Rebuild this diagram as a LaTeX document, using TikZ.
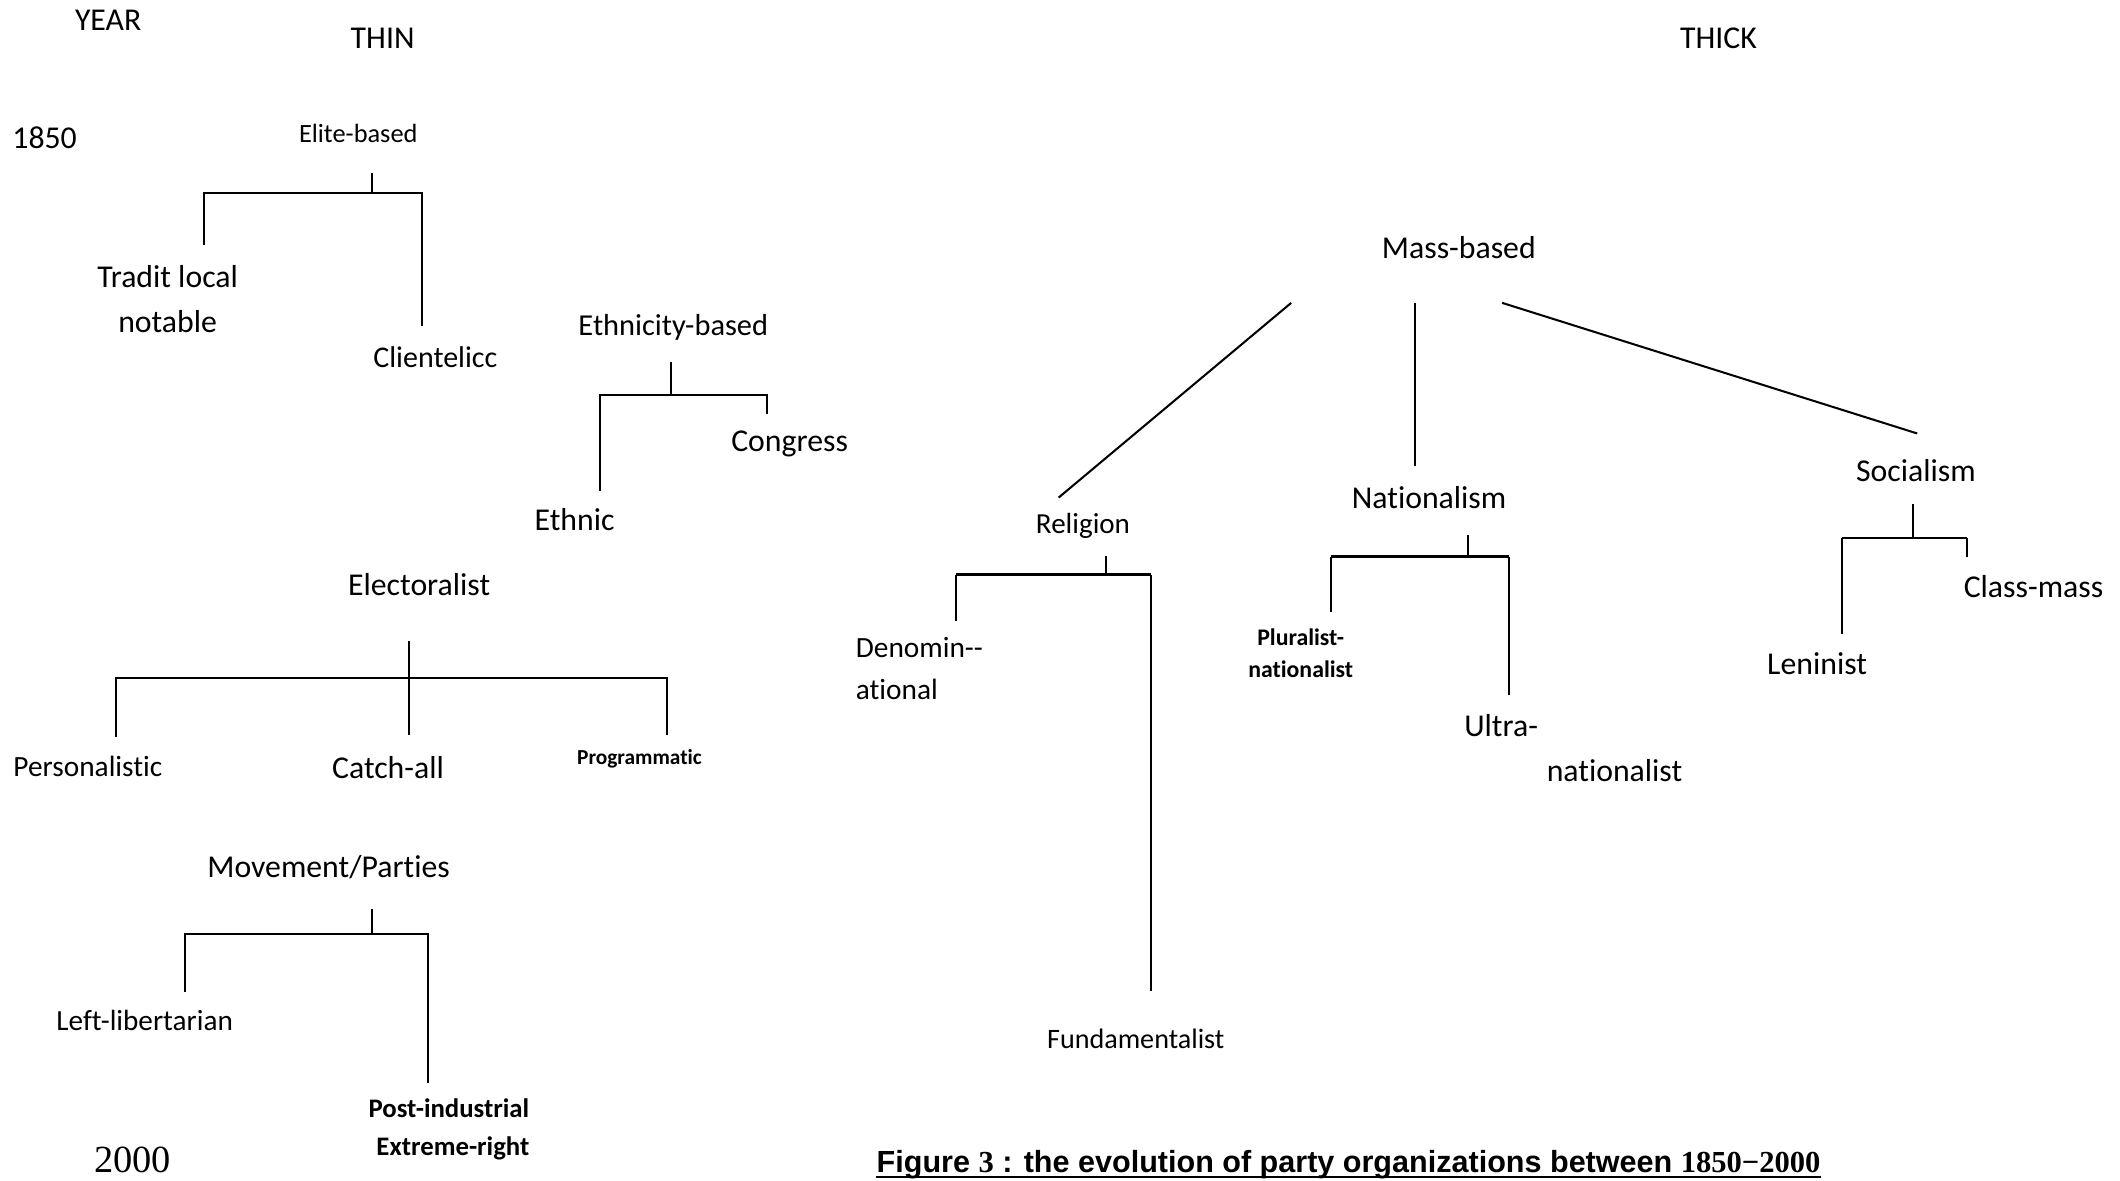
\documentclass[tikz,border=0pt]{standalone}
\usepackage{fontspec}
\setmainfont{Carlito}[Ligatures=NoCommon]
\newfontfamily\capfont{Liberation Sans}
\newfontfamily\yearfont{Liberation Serif}
\usetikzlibrary{calc}

\tikzset{
  lbl/.style={inner sep=0pt, outer sep=0pt, font=\fontsize{11.75}{16.5}\selectfont},
  sz/.style={font=\fontsize{#1}{#1}\selectfont},
  bsz/.style={font=\fontsize{#1}{#1}\selectfont\bfseries},
  link/.style={draw=black, line width=0.75pt},
  bar/.style={draw=black, line width=1pt}
}

\begin{document}
\begin{tikzpicture}[x=0.5pt, y=-0.5pt]
\useasboundingbox (0,0) rectangle (1568,873);

% ---------- headings and time axis ----------
\node[lbl] (year)  at (80,15)   {YEAR};
\node[lbl] (thin)  at (283,28)  {THIN};
\node[lbl] (thick) at (1271,28) {THICK};
\node[lbl] (y1850) at (33,102)  {1850};
\node[lbl, font=\yearfont\fontsize{14.2}{14.2}\selectfont] (y2000) at (98,858) {2000};

% ---------- thin side ----------
\node[lbl, sz=9.75] (elite) at (265,99) {Elite-based};
\node[lbl, align=center] (tradit) at (124,221) {Tradit local\\notable};
\node[lbl, sz=11.1] (client) at (322,264) {Clientelicc};

\node[lbl, sz=11.25] (ethnicity) at (498,242) {Ethnicity-based};
\node[lbl] (congress) at (584,328) {Congress};
\node[lbl] (ethnic) at (425,384) {Ethnic};

\node[lbl] (elect) at (310,432) {Electoralist};
\node[lbl, sz=10.85] (person) at (65,567) {Personalistic};
\node[lbl] (catch) at (287,568) {Catch-all};
\node[lbl, bsz=7.9] (program) at (473,561) {Programmatic};

\node[lbl] (movement) at (243,641) {Movement/Parties};
\node[lbl, sz=10.8] (leftlib) at (107,755) {Left-libertarian};
\node[lbl, align=center, font=\fontsize{9.9}{14}\selectfont\bfseries] (postind) at (332,835) {Post-industrial\\\hspace*{3pt}Extreme-right};

% ---------- thick side ----------
\node[lbl] (mass) at (1079,183) {Mass-based};
\node[lbl, sz=10.75] (religion) at (801,389) {Religion};
\node[lbl] (nation) at (1057,368) {Nationalism};
\node[lbl] (social) at (1417,348) {Socialism};

\node[lbl, anchor=west, align=left, font=\fontsize{10.85}{15.5}\selectfont] (denom) at (633,494.5) {Denomin-{}-\\ational};
\node[lbl, sz=10.4] (fundam) at (840,768) {Fundamentalist};

\node[lbl, align=center, font=\fontsize{8.8}{12}\selectfont\bfseries] (plural) at (962,483) {Pluralist-\\nationalist};
\node[lbl, anchor=west, align=left] (ultra) at (1083,553.5) {Ultra-\\\hspace*{30.5pt}nationalist};

\node[lbl] (lenin) at (1344,491) {Leninist};
\node[lbl] (classm) at (1504,434) {Class-mass};

% ---------- caption ----------
\node[inner sep=0pt, anchor=base west, font=\capfont\bfseries\fontsize{11.3}{11.3}\selectfont] (caption) at (648,867)
  {Figure {\yearfont 3} : the evolution of party organizations between {\yearfont 1850−2000}};
\draw[line width=0.9pt] ($(caption.base west)+(0,3.5)$) -- ($(caption.base east)+(0,3.5)$);

% ---------- branch points ----------
\coordinate (eliteA) at (275,128);  \coordinate (eliteJ) at (275,143);
\coordinate (eliteL) at (151,181);  \coordinate (eliteR) at (312,241);

\coordinate (ethA) at (496,268);    \coordinate (ethJ) at (496,292);
\coordinate (ethL) at (444,363);    \coordinate (ethR) at (567,306);

\coordinate (elA) at (302.5,474);   \coordinate (elJ) at (302.5,501.5);
\coordinate (elL) at (86,545);      \coordinate (elM) at (302.5,543.5);
\coordinate (elR) at (493,543.5);

\coordinate (mvA) at (275,672);     \coordinate (mvJ) at (275,690.5);
\coordinate (mvL) at (137,734);     \coordinate (mvR) at (316.5,801);

\coordinate (msL) at (955,224);     \coordinate (msM) at (1046.3,224);
\coordinate (msR) at (1111,224);
\coordinate (relTop) at (783,368);  \coordinate (natTop) at (1046.3,345);
\coordinate (socTop) at (1418,320.6);

\coordinate (relA) at (818,411);    \coordinate (relJ) at (818,425);
\coordinate (relL) at (707,459);    \coordinate (relR) at (851,733);

\coordinate (natA) at (1085.8,395.6); \coordinate (natJ) at (1085.8,411.8);
\coordinate (natL) at (984.5,452.8);  \coordinate (natR) at (1115.8,514);

\coordinate (socA) at (1414.7,373); \coordinate (socJ) at (1414.7,398);
\coordinate (socL) at (1362.5,469); \coordinate (socR) at (1454.7,412);

% ---------- thin side connectors ----------
\draw[link] (eliteA) -- (eliteJ);
\draw[link] (eliteL) |- (eliteJ) -| (eliteR);

\draw[link] (ethA) -- (ethJ);
\draw[link] (ethL) |- (ethJ) -| (ethR);

\draw[link] (elA) -- (elM);
\draw[link] (elL) |- (elJ) -| (elR);

\draw[link] (mvA) -- (mvJ);
\draw[link] (mvL) |- (mvJ) -| (mvR);

% ---------- thick side connectors ----------
\draw[link] (msL) -- (relTop);
\draw[link] (msM) -- (natTop);
\draw[link] (msR) -- (socTop);

\draw[link] (relA) -- (relJ);
\draw[link] (relL) -- (relL |- relJ);
\draw[bar] (relL |- relJ) -- (relR |- relJ);
\draw[link] (relR |- relJ) -- (relR);

\draw[link] (natA) -- (natJ);
\draw[link] (natL) -- (natL |- natJ);
\draw[bar] (natL |- natJ) -- (natR |- natJ);
\draw[link] (natR |- natJ) -- (natR);

\draw[link] (socA) -- (socJ);
\draw[link] (socL) -- (socL |- socJ);
\draw[bar] (socL |- socJ) -- (socR |- socJ);
\draw[link] (socR |- socJ) -- (socR);
\end{tikzpicture}
\end{document}
